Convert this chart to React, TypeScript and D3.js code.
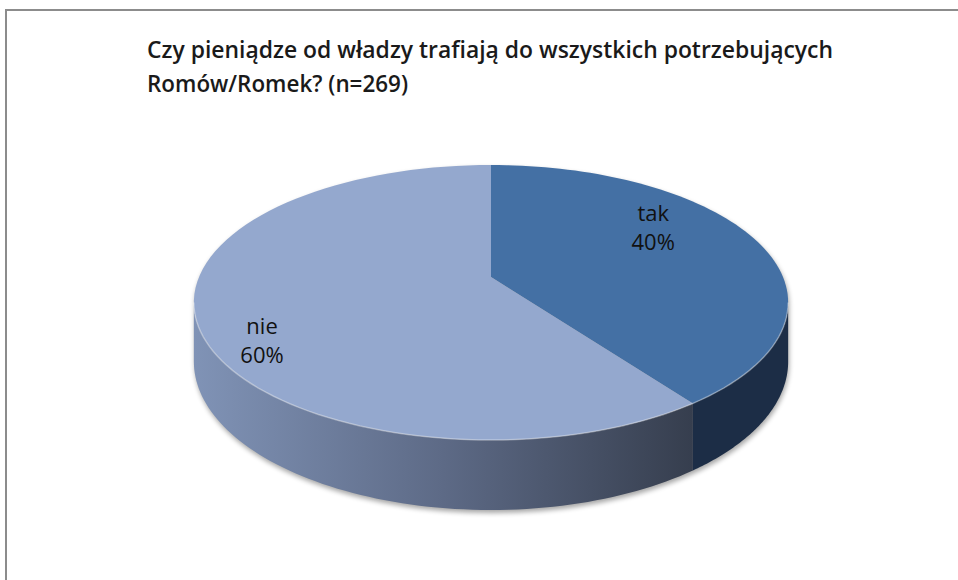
import React from "react";
import * as d3 from "d3";

const categories = ["tak", "nie"];
const values = [40, 60];
const percentLabels = ["40%", "60%"];
const titleLines = [
  "Czy pieniądze od władzy trafiają do wszystkich potrzebujących",
  "Romów/Romek? (n=269)",
];

// styling / geometry (not data)
const W = 958;
const H = 580;
const CX = 491;
const CY = 277; // projected center of disk
const A = 292; // horizontal radius factor
const B = 132.8; // vertical radius factor
const K = 0.1854; // perspective
const DEPTH = 57; // thickness
const topColors = ["#4470a4", "#94a8ce"];
const sideColors = ["#1c2d46", "url(#nieSide)"];
// label placement in disk polar coords (angle deg, radius fraction)
const labelPlacement = [
  { ang: 56.4, r: 0.716 },
  { ang: 238.4, r: 0.845 },
];

function proj(theta: number, r: number, down = 0): [number, number] {
  const u = Math.sin(theta) * r;
  const v = Math.cos(theta) * r;
  const w = 1 + K * v;
  return [CX + (A * u) / w, CY - (B * v) / w + (down * DEPTH) / w];
}

function arcPts(a0: number, a1: number, down = 0, n = 80): [number, number][] {
  const pts: [number, number][] = [];
  for (let i = 0; i <= n; i++) {
    const t = a0 + ((a1 - a0) * i) / n;
    pts.push(proj(t, 1, down));
  }
  return pts;
}

export default function App() {
  const pie = d3.pie<number>().sort(null).value((d) => d);
  const arcs = pie(values);
  const line = d3.line<[number, number]>().curve(d3.curveLinear);
  const closed = (pts: [number, number][]) => line(pts) + "Z";

  const visA = Math.acos(-K);
  const visB = 2 * Math.PI - visA;

  const sides = arcs.map((a, i) => {
    const s = Math.max(a.startAngle, visA);
    const e = Math.min(a.endAngle, visB);
    if (e <= s) return null;
    const top = arcPts(s, e, 0);
    const bot = arcPts(s, e, 1).reverse();
    return { d: closed([...top, ...bot]), i };
  });

  const tops = arcs.map((a, i) => {
    const pts = [proj(0, 0), ...arcPts(a.startAngle, a.endAngle, 0)];
    return { d: closed(pts), i };
  });

  const silBottom = closed([...arcPts(visA, visB, 1), ...arcPts(visB, visA + 2 * Math.PI, 0)]);

  const leftX = proj(visB, 1)[0];
  const bevel = line(arcPts(visA, visB, 0));

  return (
    <svg
      width={W}
      height={H}
      style={{ position: "absolute", left: 0, top: 0, background: "#fff" }}
      fontFamily="'Open Sans', sans-serif"
    >
      <defs>
        <linearGradient id="nieSide" gradientUnits="userSpaceOnUse" x1={leftX} x2={proj(arcs[1].startAngle, 1)[0]} y1={0} y2={0}>
          <stop offset="0" stopColor="#8093b6" />
          <stop offset="0.5" stopColor="#5d6a86" />
          <stop offset="1" stopColor="#363e4e" />
        </linearGradient>
        <filter id="blur" x="-20%" y="-20%" width="140%" height="140%">
          <feGaussianBlur stdDeviation="2.5" />
        </filter>
      </defs>
      <rect x={6} y={10} width={W + 10} height={H + 10} fill="#fff" stroke="#8c8c8c" strokeWidth={2} />
      {titleLines.map((t, i) => (
        <text
          key={i}
          x={147}
          y={58 + i * 33.5}
          fontSize={22.5}
          fontWeight={600}
          fill="#1a1a1a"
          textLength={i === 0 ? 686 : 261}
          lengthAdjust="spacingAndGlyphs"
        >
          {t}
        </text>
      ))}
      <path d={silBottom} transform="translate(1,3)" fill="#000" opacity={0.35} filter="url(#blur)" />
      {sides.map((s) => s && <path key={"s" + s.i} d={s.d} fill={sideColors[s.i]} />)}
      {tops.map((t) => (
        <path key={"t" + t.i} d={t.d} fill={topColors[t.i]} />
      ))}
      <path d={bevel || ""} fill="none" stroke="#ffffff" strokeOpacity={0.35} strokeWidth={1.5} />
      {arcs.map((a, i) => {
        const lp = labelPlacement[i];
        const [x, y] = proj((lp.ang * Math.PI) / 180, lp.r);
        return (
          <text key={"l" + i} x={x} textAnchor="middle" fontSize={22} fill="#111">
            <tspan x={x} y={y - 7}>{categories[i]}</tspan>
            <tspan x={x} y={y + 22}>{percentLabels[i]}</tspan>
          </text>
        );
      })}
    </svg>
  );
}
